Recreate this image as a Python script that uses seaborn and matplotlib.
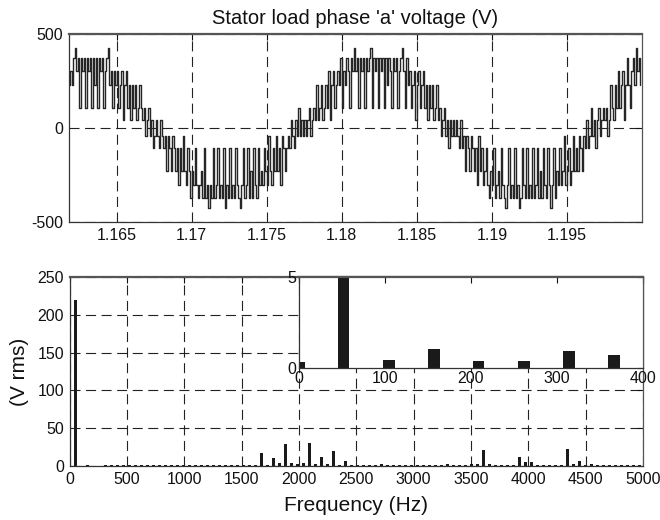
import numpy as np
import pandas as pd
import matplotlib
matplotlib.use("Agg")
import matplotlib.pyplot as plt
import seaborn as sns

# ---------------- data ----------------
# Stator load phase 'a' voltage, stepped samples (V)
t_start = 1.1618
t_step = 0.0001
seg_a = [228, 302, 228, 372, 425, 302, 372, 105, 372, 302,
         372, 105, 372, 302, 372, 105, 372, 228, 372, 105,
         372, 302, 372, 105, 302, 372, 425, 228, 302, 105,
         302, 228, 302, 105, 228, 302, 42, 228, 302, 105,
         228, 42, 228, 105, 228, 42, 105, 228, 105, 42,
         105, -42, 42, 105, -42, 42, -105]
seg_b = [-42, 42, -42, -105, 42, -42, -105, -42, -228, -42,
         -105, -228, -42, -105, -228, -105, -302, -105, -228, -42,
         -228, -302, -105, -228, -372, -228, -302, -105, -302, -372,
         -302, -228, -372, -105, -372, -302, -425, -302, -372, -105,
         -372, -302, -105, -372, -302, -372, -105, -425, -302, -372,
         -105, -372, -302, -372, -105, -302, -372, -425, -302, -105,
         -372, -302, -105, -372, -228, -372, -105, -302, -372, -105,
         -302, -228, -302, -105, -228, -302, -42, -228, -302, -105,
         -228, -42, -228, -105, -302, -42, -105, -228, -105, -42,
         -105, 42, -42, -105, 42, -42, 105, -42, 42, -42]
seg_c = [42, -42, 42, 105, -42, 42, 105, 42, 228, 42,
         105, 228, 42, 105, 228, 105, 302, 42, 228, 302,
         105, 228, 302, 228, 372, 105, 302, 228, 372, 302,
         105, 372, 302, 425, 302, 372, 105, 372, 302, 372,
         105, 372, 302, 372, 425, 105, 372, 302, 372, 105,
         372, 302, 372, 105, 372, 228, 372, 302, 105, 372,
         302, 372, 105, 302, 372, 425, 302, 105, 372, 228,
         302, 105, 228, 302, 42, 228, 302, 105, 228, 302,
         105, 228, 42, 228, 105, 228, 42, 105, 228, 42,
         105, -42, 42, 105, -42, 42, -105, 42, -42, 42]
seg_d = [-42, 42, -42, -105, 42, -105, -42, -228, -42, -105,
         -228, -42, -105, -228, -105, -302, -42, -228, -105, -302,
         -228, -105, -302, -372, -228, -302, -105, -372, -302, -228,
         -372, -105, -302, -372, -425, -302, -105, -372, -302, -372,
         -105, -372, -302, -425, -372, -105, -302, -372, -105, -372,
         -302, -372, -105, -372, -302, -105, -372, -228, -372, -105,
         -302, -372, -105, -302, -425, -302, -105, -372, -228, -302,
         -105, -302, -228, -42, -302, -228, -105, -302, -228, -42,
         -228, -105, -228, -42, -105, -228, -42, -105, 42, -105,
         -42, 105, -42, 42, -105, 42, 105, -42, 42, 105]
seg_e = [42, 105, -42, 42, 228, 105, 42, 228, 105, 302,
         105, 228, 302, 42, 228, 372, 228, 105, 302, 372,
         228, 425, 302, 372, 228]

top_xticks = [1.165, 1.17, 1.175, 1.18, 1.185, 1.19, 1.195]
top_xtick_labels = ["1.165", "1.17", "1.175", "1.18", "1.185", "1.19", "1.195"]
top_yticks = [-500, 0, 500]

# Spectrum (Hz, V rms)
freqs = [0, 52, 105, 157, 209, 262, 314, 366, 418, 471,
         523, 575, 628, 680, 732, 785, 837, 889, 941, 994,
         1046, 1098, 1151, 1203, 1255, 1308, 1360, 1412, 1464, 1517,
         1569, 1621, 1674, 1726, 1778, 1831, 1883, 1935, 1987, 2040,
         2092, 2144, 2197, 2249, 2301, 2354, 2406, 2458, 2510, 2563,
         2615, 2667, 2720, 2772, 2824, 2877, 2929, 2981, 3033, 3086,
         3138, 3190, 3243, 3295, 3347, 3400, 3452, 3504, 3556, 3609,
         3661, 3713, 3766, 3818, 3870, 3923, 3975, 4027, 4079, 4132,
         4184, 4236, 4289, 4341, 4393, 4446, 4498, 4550, 4602, 4655,
         4707, 4759, 4812, 4864, 4916, 4969]
vrms = [0.36, 220, 0.45, 1.05, 0.4, 0.4, 0.97, 0.73, 0.8, 1.0,
        0.9, 1.1, 0.8, 1.0, 0.9, 1.0, 0.8, 0.9, 1.1, 0.8,
        1.0, 0.9, 0.8, 1.0, 0.9, 1.1, 0.8, 1.0, 0.9, 1.2,
        1.0, 1.3, 17, 1.5, 11, 3.5, 29, 4, 2, 4,
        31, 2.5, 11.5, 2, 20.5, 1.5, 6, 1.2, 1.0, 0.9,
        1.1, 0.9, 2.0, 1.0, 0.9, 1.0, 0.8, 1.0, 0.9, 1.1,
        0.9, 1.0, 1.1, 2.0, 1.0, 0.9, 1.2, 2.0, 3.0, 21,
        3.0, 1.8, 1.6, 1.8, 1.0, 11.5, 5, 5.5, 1.5, 1.8,
        1.6, 1.8, 1.2, 22.5, 2.0, 6.5, 1.2, 2.0, 1.0, 1.5,
        1.0, 1.2, 1.6, 1.0, 1.0, 1.2]
bot_xticks = [0, 500, 1000, 1500, 2000, 2500, 3000, 3500, 4000, 4500, 5000]
bot_yticks = [0, 50, 100, 150, 200, 250]
inset_xticks = [0, 100, 200, 300, 400]
inset_yticks = [0, 5]

# ---------------- style ----------------
sns.set_style("white")
plt.rcParams["font.family"] = ["Liberation Sans", "DejaVu Sans"]
plt.rcParams["axes.unicode_minus"] = False

TICK_FS = 11.5
INK = "#1a1a1a"
GRID_KW = dict(color="#222222", linewidth=0.8, linestyle=(0, (9, 5)))

fig = plt.figure(figsize=(6.6, 5.2), dpi=100)
W, H = 660.0, 520.0


def box(l, t, r, b):
    return [l / W, 1 - b / H, (r - l) / W, (b - t) / H]


def style_axes(ax):
    for name, sp in ax.spines.items():
        sp.set_color("#333333")
        sp.set_linewidth(0.9)
    ax.spines["top"].set_linewidth(1.6)
    ax.spines["top"].set_color("#555555")
    ax.spines["right"].set_color("#555555")
    ax.tick_params(direction="in", length=4, width=0.8, top=True, right=True,
                   labelsize=TICK_FS, colors="#111111", pad=4)


# ---------------- top: waveform ----------------
wave = seg_a + seg_b + seg_c + seg_d + seg_e
df_w = pd.DataFrame({"t": t_start + t_step * np.arange(len(wave)), "v": wave})

ax1 = fig.add_axes(box(68.5, 34, 642, 222))
sns.lineplot(data=df_w, x="t", y="v", ax=ax1, color="#262626", linewidth=1.0,
             drawstyle="steps-post", estimator=None)
ax1.set_xlim(1.1618, 1.2)
ax1.set_ylim(-500, 500)
ax1.set_xticks(top_xticks)
ax1.set_xticklabels(top_xtick_labels)
ax1.set_yticks(top_yticks)
ax1.set_xlabel("")
ax1.set_ylabel("")
ax1.grid(True, **GRID_KW)
ax1.set_axisbelow(True)
style_axes(ax1)
ax1.set_title("Stator load phase 'a' voltage (V)", fontsize=14.5, pad=7, color="#111111")

# ---------------- bottom: spectrum ----------------
df_s = pd.DataFrame({"f": freqs, "v": vrms})

ax2 = fig.add_axes(box(69.5, 277, 643, 466))
sns.barplot(data=df_s, x="f", y="v", ax=ax2, native_scale=True, width=0.5,
            color=INK, saturation=1, linewidth=0, errorbar=None)
ax2.set_xlim(0, 5000)
ax2.set_ylim(0, 250)
ax2.set_xticks(bot_xticks)
ax2.set_xticklabels([str(v) for v in bot_xticks])
ax2.set_yticks(bot_yticks)
ax2.set_yticklabels([str(v) for v in bot_yticks])
ax2.grid(True, **GRID_KW)
ax2.set_axisbelow(True)
style_axes(ax2)
ax2.set_xlabel("Frequency (Hz)", fontsize=15, labelpad=7, color="#111111")
ax2.set_ylabel("(V rms)", fontsize=15, labelpad=6, color="#111111")

# ---------------- inset ----------------
df_i = df_s[df_s["f"] <= 400]
ax3 = fig.add_axes(box(298.7, 277, 643, 368.3))
ax3.set_facecolor("white")
sns.barplot(data=df_i, x="f", y="v", ax=ax3, native_scale=True, width=0.26,
            color=INK, saturation=1, linewidth=0, errorbar=None)
ax3.set_xlim(0, 400)
ax3.set_ylim(0, 5)
ax3.set_xticks(inset_xticks)
ax3.set_xticklabels([str(v) for v in inset_xticks])
ax3.set_yticks(inset_yticks)
ax3.set_yticklabels([str(v) for v in inset_yticks])
ax3.set_xlabel("")
ax3.set_ylabel("")
style_axes(ax3)
ax3.tick_params(pad=2)

fig.savefig("out.png", dpi=100, facecolor="white")
